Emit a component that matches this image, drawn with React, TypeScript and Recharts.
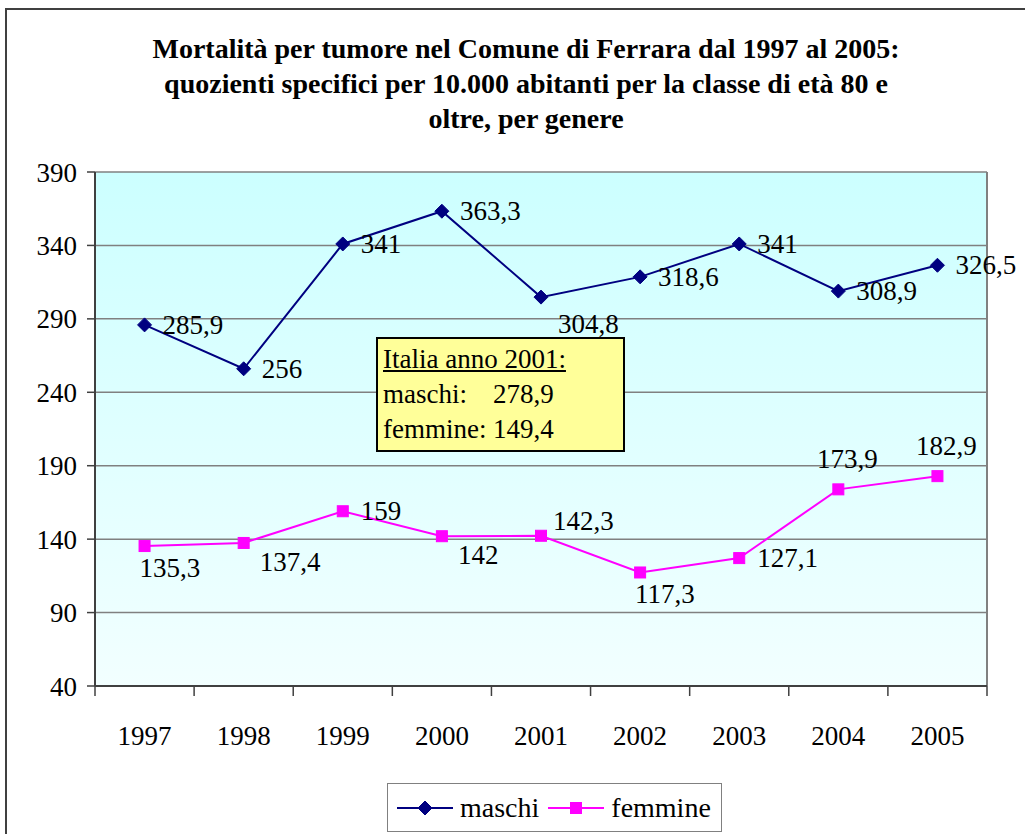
import { LineChart, Line, XAxis, YAxis, CartesianGrid, ReferenceLine, LabelList } from 'recharts'

const TITLE_LINES = [
  'Mortalità per tumore nel Comune di Ferrara dal 1997 al 2005:',
  'quozienti specifici per 10.000 abitanti per la classe di età 80 e',
  'oltre, per genere',
]
const YEARS = ['1997', '1998', '1999', '2000', '2001', '2002', '2003', '2004', '2005']
const MASCHI = [285.9, 256, 341, 363.3, 304.8, 318.6, 341, 308.9, 326.5]
const FEMMINE = [135.3, 137.4, 159, 142, 142.3, 117.3, 127.1, 173.9, 182.9]
const Y_TICKS = [40, 90, 140, 190, 240, 290, 340, 390]
const ITALIA_LABELS = ['maschi', 'femmine']
const ITALIA_VALUES = [278.9, 149.4]

// where each data label sits next to its point, as in the original
const MASCHI_LABEL_POS = ['right', 'right', 'right', 'right', 'rightLow', 'right', 'right', 'right', 'right']
const FEMMINE_LABEL_POS = ['below', 'rightBelow', 'right', 'rightBelow', 'rightAbove', 'below', 'right', 'above', 'above']

const FONT = '"Liberation Serif", "Times New Roman", serif'
const FS = 27

// plot box
const PLOT_LEFT = 95
const PLOT_RIGHT = 987
const PLOT_TOP = 172
const PLOT_BOTTOM = 686
const W = 1025
const H = 834
const X_AXIS_H = 40
const BAND = (PLOT_RIGHT - PLOT_LEFT) / YEARS.length

const SERIES = [
  { key: 'maschi', color: '#000080', shape: 'diamond', pos: MASCHI_LABEL_POS },
  { key: 'femmine', color: '#ff00ff', shape: 'square', pos: FEMMINE_LABEL_POS },
]

const data = YEARS.map((year, i) => ({ x: i + 0.5, year, maschi: MASCHI[i], femmine: FEMMINE[i] }))
const boundaries = YEARS.map((_, i) => i).concat(YEARS.length)

const PLACEMENT: Record<string, { dx: number; dy: number; anchor: 'start' | 'middle' }> = {
  right: { dx: 18, dy: 0, anchor: 'start' },
  rightLow: { dx: 17, dy: 27, anchor: 'start' },
  rightBelow: { dx: 16, dy: 19, anchor: 'start' },
  rightAbove: { dx: 12, dy: -15, anchor: 'start' },
  below: { dx: -5, dy: 22, anchor: 'start' },
  above: { dx: 9, dy: -30, anchor: 'middle' },
}

const fmt = (v: number) => String(v).replace('.', ',')

function Marker({ cx, cy, color, shape }: { cx: number; cy: number; color: string; shape: string }) {
  if (shape === 'diamond') {
    const r = 7
    return <path d={`M${cx},${cy - r}L${cx + r},${cy}L${cx},${cy + r}L${cx - r},${cy}Z`} fill={color} stroke={color} />
  }
  const r = 5.5
  return <rect x={cx - r} y={cy - r} width={r * 2} height={r * 2} fill={color} stroke={color} />
}

function YearTick(props: any) {
  const { x, y, payload } = props
  const year = YEARS[payload.value]
  if (!year) return null
  return (
    <text x={x + BAND / 2} y={y + 49} textAnchor="middle" fontSize={FS} fontFamily={FONT} fill="#000">
      {year}
    </text>
  )
}

function makeLabel(pos: string[]) {
  return (p: any) => {
    const place = PLACEMENT[pos[p.index]] || PLACEMENT.right
    return (
      <text
        key={`l-${p.index}`}
        x={p.x + place.dx}
        y={p.y + place.dy + 9}
        textAnchor={place.anchor}
        fontSize={FS}
        fontFamily={FONT}
        fill="#000"
      >
        {fmt(p.value)}
      </text>
    )
  }
}

export default function App() {
  return (
    <div style={{ position: 'absolute', left: 0, top: 0, width: W, height: H, overflow: 'hidden', background: '#fff', fontFamily: FONT }}>
      {/* outer chart frame, runs off the right and bottom edge */}
      <div style={{ position: 'absolute', left: 5, top: 8, width: 1100, height: 900, border: '2px solid #404040' }} />

      <div
        style={{
          position: 'absolute', left: 0, top: 31, width: 1052, textAlign: 'center',
          fontWeight: 'bold', fontSize: 28, lineHeight: '35px', color: '#000',
        }}
      >
        {TITLE_LINES.map((t) => (
          <div key={t}>{t}</div>
        ))}
      </div>

      <div style={{ position: 'absolute', left: 0, top: 0 }}>
        <LineChart
          width={W}
          height={H}
          data={data}
          margin={{ top: PLOT_TOP, right: W - PLOT_RIGHT, bottom: H - PLOT_BOTTOM - X_AXIS_H, left: 0 }}
        >
          <defs>
            <linearGradient id="plotBg" x1="0" y1="0" x2="0" y2="1">
              <stop offset="0" stopColor="#ccffff" />
              <stop offset="1" stopColor="#f2ffff" />
            </linearGradient>
          </defs>
          <CartesianGrid vertical={false} stroke="#808080" strokeWidth={1.5} fill="url(#plotBg)" fillOpacity={1} />
          <XAxis
            type="number"
            dataKey="x"
            domain={[0, YEARS.length]}
            ticks={boundaries}
            interval={0}
            height={X_AXIS_H}
            tickSize={10}
            tickMargin={0}
            axisLine={{ stroke: '#404040', strokeWidth: 2 }}
            tickLine={{ stroke: '#404040', strokeWidth: 1.5 }}
            tick={<YearTick />}
          />
          <YAxis
            domain={[40, 390]}
            ticks={Y_TICKS}
            interval={0}
            width={PLOT_LEFT}
            tickSize={8}
            tickMargin={10}
            axisLine={{ stroke: '#404040', strokeWidth: 2 }}
            tickLine={{ stroke: '#404040', strokeWidth: 1.5 }}
            tick={{ fontSize: FS, fontFamily: FONT, fill: '#000' }}
          />
          <ReferenceLine x={YEARS.length} stroke="#808080" strokeWidth={2} />
          {SERIES.map((s) => (
            <Line
              key={s.key}
              dataKey={s.key}
              stroke={s.color}
              strokeWidth={2}
              isAnimationActive={false}
              dot={(p: any) => <Marker key={`${s.key}-${p.index}`} cx={p.cx} cy={p.cy} color={s.color} shape={s.shape} />}
              activeDot={false}
            >
              <LabelList dataKey={s.key} content={makeLabel(s.pos)} />
            </Line>
          ))}
        </LineChart>
      </div>

      {/* Italia 2001 note */}
      <div
        style={{
          position: 'absolute', left: 376, top: 337, width: 249, height: 115, boxSizing: 'border-box',
          background: '#ffff99', border: '2px solid #000', padding: '3px 0 0 5px',
          fontSize: FS, lineHeight: '35px', color: '#000',
        }}
      >
        <div style={{ textDecoration: 'underline' }}>Italia anno 2001:</div>
        {ITALIA_LABELS.map((lab, i) => (
          <div key={lab}>
            <span style={{ display: 'inline-block', width: 110 }}>{lab}:</span>
            {fmt(ITALIA_VALUES[i])}
          </div>
        ))}
      </div>

      {/* legend */}
      <div
        style={{
          position: 'absolute', left: 387, top: 783, width: 335, height: 49, boxSizing: 'border-box',
          border: '1.5px solid #808080', background: '#fff', display: 'flex', alignItems: 'center',
          paddingLeft: 9, fontSize: 28, color: '#000',
        }}
      >
        {SERIES.map((s) => (
          <div key={s.key} style={{ display: 'flex', alignItems: 'center', marginRight: 9 }}>
            <svg width={56} height={20} style={{ marginRight: 7 }}>
              <line x1={0} y1={10} x2={56} y2={10} stroke={s.color} strokeWidth={2} />
              <Marker cx={28} cy={10} color={s.color} shape={s.shape} />
            </svg>
            <span>{s.key}</span>
          </div>
        ))}
      </div>
    </div>
  )
}
